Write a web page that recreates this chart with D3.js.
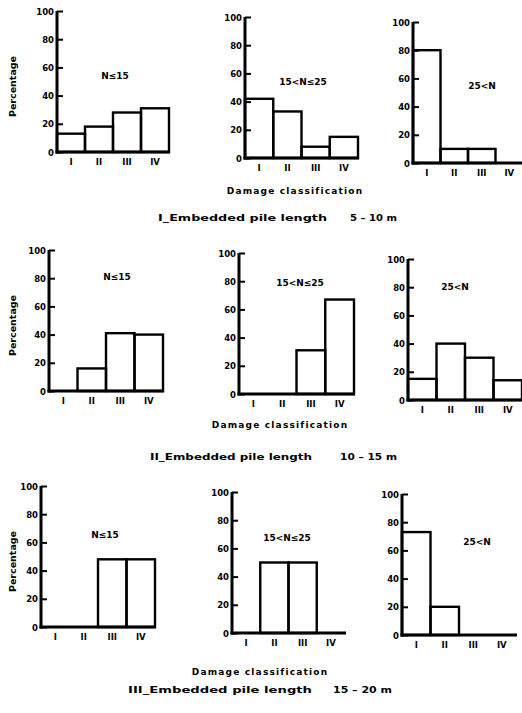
<!DOCTYPE html>
<html>
<head>
  <meta charset="utf-8">
  <title>Damage classification histograms</title>
  <style type="text/css">
    body { margin: 0; background: #fff; }
    svg text { font-family: "DejaVu Sans", sans-serif; font-weight: bold; fill: #000; }
  </style>
</head>
<body>
  <div id="chart"></div>
  <script src="https://cdn.jsdelivr.net/npm/d3@7"></script>
  <script type="text/javascript">
    // data
    var categories = ['I', 'II', 'III', 'IV'];
    var tickValues = [0, 20, 40, 60, 80, 100];
    var panelTitles = ['N\u226415', '15<N\u226425', '25<N'];
    var rowLabels = ['I_Embedded pile length', 'II_Embedded pile length', 'III_Embedded pile length'];
    var rowRanges = ['5 \u2013 10 m', '10 \u2013 15 m', '15 \u2013 20 m'];

    // percentages, one array per panel (row = pile length, column = N range)
    var row1 = [[13, 18, 28, 31], [42, 33, 8, 15], [80, 10, 10, 0]];
    var row2 = [[0, 16, 41, 40], [0, 0, 31, 67], [15, 40, 30, 14]];
    var row3 = [[0, 0, 48, 48], [0, 50, 50, 0], [73, 20, 0, 0]];
    var rows = [row1, row2, row3];

    // where each small chart sits on the page (axis origin, widths, title offset)
    var layout = [
      [{x: 57, y: 152, w: 112, tx: 58, ty: 76}, {x: 245, y: 158, w: 113, tx: 58, ty: 76}, {x: 413, y: 163, w: 110, tx: 69, ty: 77}],
      [{x: 49, y: 391, w: 114, tx: 68, ty: 114}, {x: 239, y: 394, w: 115, tx: 61, ty: 111}, {x: 408, y: 400, w: 114, tx: 47, ty: 113}],
      [{x: 41, y: 627, w: 114, tx: 64, ty: 92}, {x: 232, y: 633, w: 113, tx: 55, ty: 95}, {x: 402, y: 635, w: 114, tx: 75, ty: 93}]
    ];
    var plotH = 141;
    var xLabelPos = [{x: 295, y: 194}, {x: 280, y: 428}, {x: 260, y: 675}];
    var captionPos = [
      {x: 158, x1: 327, x2: 350, x3: 397, y: 221},
      {x: 150, x1: 312, x2: 340, x3: 397, y: 460},
      {x: 128, x1: 312, x2: 333, x3: 392, y: 693}
    ];

    var svg = d3.select('#chart')
      .append('svg')
      .attr('width', 522)
      .attr('height', 713);

    rows.forEach(function(row, r) {
      row.forEach(function(values, c) {
        var L = layout[r][c];
        var g = svg.append('g').attr('transform', 'translate(' + L.x + ',' + L.y + ')');

        var x = d3.scaleBand().domain(categories).range([0, L.w]).padding(0);
        var y = d3.scaleLinear().domain([0, 100]).range([0, -plotH]);

        // bars: open outlines
        g.selectAll('rect')
          .data(values.map(function(v, i) { return {cat: categories[i], v: v}; }).filter(function(d) { return d.v > 0; }))
          .enter()
          .append('rect')
          .attr('x', function(d) { return x(d.cat); })
          .attr('y', function(d) { return y(d.v); })
          .attr('width', x.bandwidth())
          .attr('height', function(d) { return -y(d.v); })
          .attr('fill', 'none')
          .attr('stroke', '#000')
          .attr('stroke-width', 2.4);

        // y axis with inward ticks
        var yAxis = d3.axisRight(y).tickValues(tickValues).tickSize(6).tickFormat('');
        var ya = g.append('g').call(yAxis);
        ya.select('.domain').remove();
        ya.selectAll('line').attr('stroke', '#000').attr('stroke-width', 2);
        g.append('line')
          .attr('x1', 0).attr('x2', 0)
          .attr('y1', y(100)).attr('y2', 1.5)
          .attr('stroke', '#000').attr('stroke-width', 3);
        g.selectAll('.ylab')
          .data(tickValues)
          .enter()
          .append('text')
          .attr('class', 'ylab')
          .attr('x', -3)
          .attr('y', function(d) { return y(d) + 3.5; })
          .attr('text-anchor', 'end')
          .attr('font-size', 8.5)
          .text(function(d) { return d; });

        // x axis
        g.append('line')
          .attr('x1', -1.5).attr('x2', L.w + 1)
          .attr('y1', 0).attr('y2', 0)
          .attr('stroke', '#000').attr('stroke-width', 3);
        var xa = g.append('g')
          .attr('transform', 'translate(0,5)')
          .call(d3.axisBottom(x).tickSize(0).tickPadding(2));
        xa.select('.domain').remove();
        xa.selectAll('text').attr('font-size', 8.5).style('font-family', '"DejaVu Sans", sans-serif').style('font-weight', 'bold');

        // panel title
        g.append('text')
          .attr('x', L.tx)
          .attr('y', -L.ty + 3)
          .attr('text-anchor', 'middle')
          .attr('font-size', 9)
          .text(panelTitles[c]);

        if (c === 0) {
          g.append('text')
            .attr('transform', 'translate(' + (16 - L.x) + ',' + (-plotH / 2 + 5) + ') rotate(-90)')
            .attr('text-anchor', 'middle')
            .attr('font-size', 9.5)
            .text('Percentage');
        }
      });

      svg.append('text')
        .attr('x', xLabelPos[r].x)
        .attr('y', xLabelPos[r].y)
        .attr('text-anchor', 'middle')
        .attr('font-size', 9)
        .attr('letter-spacing', 1.2)
        .text('Damage classification');

      var cp = captionPos[r];
      svg.append('text')
        .attr('x', cp.x).attr('y', cp.y)
        .attr('font-size', 8.5)
        .attr('textLength', cp.x1 - cp.x)
        .attr('lengthAdjust', 'spacingAndGlyphs')
        .text(rowLabels[r]);
      svg.append('text')
        .attr('x', cp.x2).attr('y', cp.y)
        .attr('font-size', 8.5)
        .attr('textLength', cp.x3 - cp.x2)
        .attr('lengthAdjust', 'spacingAndGlyphs')
        .text(rowRanges[r]);
    });
  </script>
</body>
</html>
